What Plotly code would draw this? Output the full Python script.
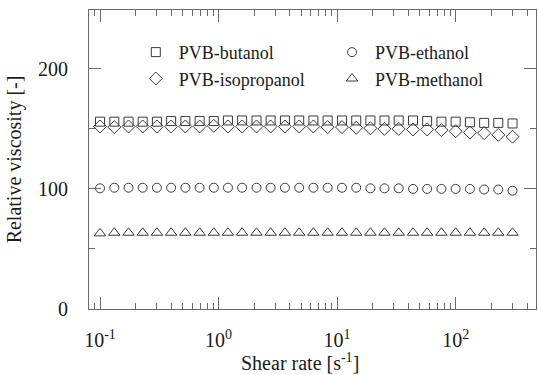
import plotly.graph_objects as go

shear_rate = [0.1, 0.132, 0.174, 0.229, 0.302, 0.398, 0.525, 0.692, 0.912, 1.2,
              1.58, 2.09, 2.75, 3.63, 4.79, 6.31, 8.32, 11.0, 14.5, 19.1,
              25.1, 33.1, 43.7, 57.5, 75.9, 100, 132, 174, 229, 302]

butanol = [156, 156, 156, 156, 156, 156.5, 156.5, 156.5, 156.5, 157,
           157, 157, 157, 157, 157, 157, 157, 157, 157, 157,
           157, 157, 157, 156.5, 156, 156, 155.5, 155, 155, 154.5]
isopropanol = [152, 151.5, 152, 152, 152, 152, 152, 152, 152.5, 152,
               152, 152, 152, 152, 152, 152, 151.5, 151.5, 151, 150.5,
               150, 150, 149.5, 149.5, 149, 148, 147, 146.5, 145, 143.5]
ethanol = [100.5, 101, 101, 101, 101, 101, 101, 101, 101, 101,
           101, 101, 101, 101, 101, 101, 101, 101, 101, 100.5,
           100.5, 100.5, 100, 100, 100, 100, 100, 99.5, 99.5, 98.5]
methanol = [63, 63.5, 63.5, 63.5, 63.5, 63.5, 63.5, 63.5, 63.5, 63.5,
            63.5, 63.5, 63.5, 63.5, 63.5, 63.5, 63.5, 63.5, 63.5, 63.5,
            63.5, 63.5, 63.5, 63.5, 63.5, 63.5, 63.5, 63.5, 63.5, 63.5]

x_tick_vals = [0.1, 1, 10, 100]
x_tick_text = ["10<sup>-1</sup>", "10<sup>0</sup>", "10<sup>1</sup>", "10<sup>2</sup>"]
y_tick_vals = [0, 100, 200]
y_tick_text = ["0", "100", "200"]
x_title = "Shear rate [s<sup>-1</sup>]"
y_title = "Relative viscosity [-]"

series = [
    ("PVB-butanol", butanol, "square-open", 9, "legend"),
    ("PVB-isopropanol", isopropanol, "diamond-open", 10, "legend"),
    ("PVB-ethanol", ethanol, "circle-open", 9, "legend2"),
    ("PVB-methanol", methanol, "triangle-up-open", 10, "legend2"),
]

FONT = "Liberation Serif, Times New Roman, serif"
MK = "#3a3a3a"
AX = "#6a6a6a"
TXT = "#1a1a1a"

fig = go.Figure()
for name, vals, sym, size, lg in series:
    fig.add_trace(go.Scatter(
        x=shear_rate, y=vals, mode="markers", name=name, legend=lg,
        marker=dict(symbol=sym, size=size, color=MK, line=dict(width=1, color=MK)),
    ))

axis_common = dict(
    showline=True, linecolor=AX, linewidth=1.2, mirror="ticks",
    ticks="inside", ticklen=12, tickwidth=1.2, tickcolor=AX,
    showgrid=False, zeroline=False,
    tickfont=dict(family=FONT, size=20, color=TXT),
)

fig.update_xaxes(
    type="log", range=[-1.093, 2.678],
    tickmode="array", tickvals=x_tick_vals, ticktext=x_tick_text,
    minor=dict(ticks="inside", ticklen=6, tickwidth=1, tickcolor=AX, dtick="D1", showgrid=False),
    ticklabelstandoff=13,
    **axis_common,
)
fig.update_yaxes(
    range=[0, 249], tickmode="array", tickvals=y_tick_vals, ticktext=y_tick_text,
    minor=dict(ticks="inside", ticklen=6, tickwidth=1, tickcolor=AX, dtick=50, tick0=0, showgrid=False),
    title=dict(text=y_title, font=dict(family=FONT, size=20, color=TXT), standoff=10),
    ticklabelstandoff=16,
    **axis_common,
)

fig.add_annotation(
    text=x_title, xref="paper", yref="paper", x=0.472, y=-0.177,
    xanchor="center", yanchor="middle", showarrow=False,
    font=dict(family=FONT, size=20, color=TXT),
)

legend_common = dict(
    font=dict(family=FONT, size=18, color=TXT),
    bgcolor="rgba(0,0,0,0)", itemwidth=36, tracegroupgap=0,
    xanchor="left", yanchor="top", xref="paper", yref="paper",
)
fig.update_layout(
    width=538, height=375,
    margin=dict(l=89, r=2, t=10, b=66),
    plot_bgcolor="white", paper_bgcolor="white",
    legend=dict(x=0.098, y=0.92, **legend_common),
    legend2=dict(x=0.537, y=0.92, **legend_common),
)

fig.write_html("out.html")
